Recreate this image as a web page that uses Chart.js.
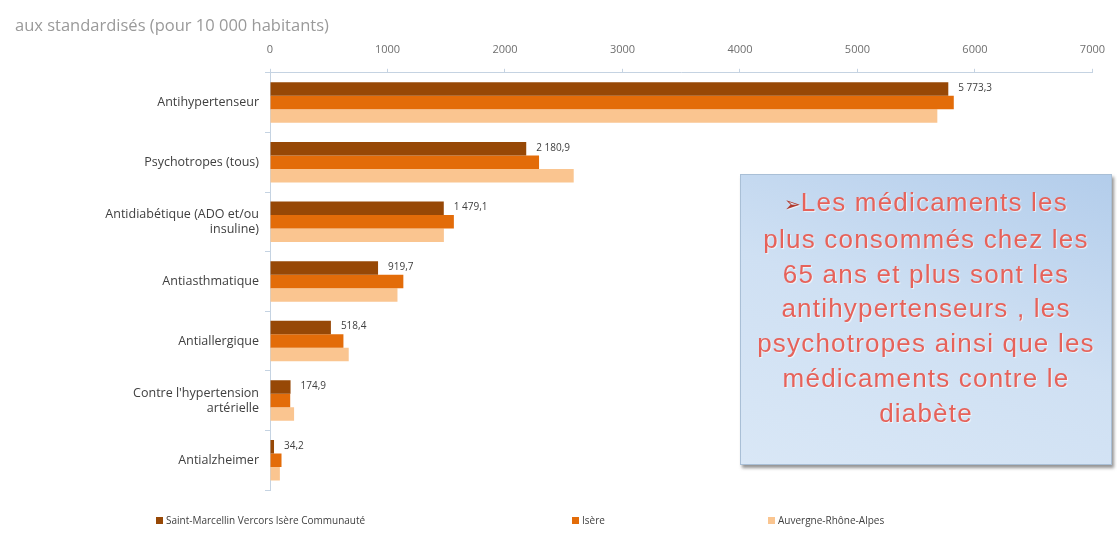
<!DOCTYPE html>
<html lang="fr">
<head>
<meta charset="utf-8">
<title>Médicaments - taux standardisés</title>
<script src="https://cdn.jsdelivr.net/npm/chart.js@4.4.1/dist/chart.umd.min.js"></script>
<style>
    html, body { margin: 0; padding: 0; background: #fff; }
    #wrap { position: relative; width: 1117px; height: 553px; overflow: hidden; }
    #medChart { position: absolute; left: 0; top: 0; }
    .note {
        position: absolute; left: 740px; top: 174px; width: 372px; height: 291px;
        box-sizing: border-box; padding-top: 10px;
        background: linear-gradient(200deg, #b3cdeb 0%, #cfe0f3 50%, #d9e7f6 100%);
        border: 1px solid #a9bfd6;
        box-shadow: 2px 3px 3px rgba(60, 60, 60, 0.55);
        font-family: "Liberation Sans", Arial, sans-serif;
        font-size: 26px; line-height: 34.8px; letter-spacing: 1.2px;
        color: #e6625a; text-align: center;
        text-shadow: 1px 1px 1px rgba(255, 255, 255, 0.7);
    }
    .note .arrow { color: #b03a2e; font-family: "DejaVu Sans"; font-size: 20px; letter-spacing: 0; }
    #legend { position: absolute; left: 0; top: 512px; width: 1117px; height: 20px; }
    .leg-item {
        position: absolute; top: 0; white-space: nowrap;
        font-family: "Open Sans", sans-serif; font-size: 10px; color: #404040;
        line-height: 16px;
    }
    .leg-box { display: inline-block; width: 7px; height: 7px; margin-right: 3px; vertical-align: 0px; }
</style>
</head>
<body>
<div id="wrap">
    <canvas id="medChart" width="1117" height="553"></canvas>
    <div class="note"><span class="arrow">➢</span>Les médicaments les<br>plus consommés chez les<br>65 ans et plus sont les<br>antihypertenseurs , les<br>psychotropes ainsi que les<br>médicaments contre le<br>diabète</div>
    <div id="legend"></div>
</div>
<script>
// -- DATA
const CATEGORIES = [
    "Antihypertenseur",
    "Psychotropes (tous)",
    ["Antidiabétique (ADO et/ou", "insuline)"],
    "Antiasthmatique",
    "Antiallergique",
    ["Contre l'hypertension", "artérielle"],
    "Antialzheimer"
];
const SERIES_NAMES = ["Saint-Marcellin Vercors Isère Communauté", "Isère", "Auvergne-Rhône-Alpes"];
const SMVIC_VALUES = [5773.3, 2180.9, 1479.1, 919.7, 518.4, 174.9, 34.2];
const ISERE_VALUES = [5820, 2290, 1565, 1135, 625, 172, 98];
const AURA_VALUES = [5680, 2585, 1480, 1085, 670, 205, 84];
const X_TICKS = [0, 1000, 2000, 3000, 4000, 5000, 6000, 7000];
const SUBTITLE = "aux standardisés (pour 10 000 habitants)";

const COLORS = ["#974806", "#e36c09", "#fac590"];
const LEGEND_X = [156, 572, 768];
const AXIS_COLOR = "#c5d3e2";

let chart;

// "5773.3" -> "5 773,3"
function formatFr(v) {
    const parts = v.toFixed(1).split(".");
    return parts[0].replace(/\B(?=(\d{3})+(?!\d))/g, " ") + "," + parts[1];
}

// value labels on the first series only
const valueLabels = {
    id: "valueLabels",
    afterDatasetsDraw(c) {
        const meta = c.getDatasetMeta(0);
        const ctx = c.ctx;
        ctx.save();
        ctx.font = "10px 'Open Sans'";
        ctx.fillStyle = "#404040";
        ctx.textBaseline = "middle";
        meta.data.forEach((bar, i) => {
            ctx.fillText(formatFr(SMVIC_VALUES[i]), bar.x + 10, bar.y - 1);
        });
        ctx.restore();
    }
};

function initChart() {
    const ctx = document.getElementById("medChart").getContext("2d");
    chart = new Chart(ctx, {
        type: "bar",
        data: {
            labels: CATEGORIES,
            datasets: [SMVIC_VALUES, ISERE_VALUES, AURA_VALUES].map((vals, i) => ({
                label: SERIES_NAMES[i],
                data: vals,
                backgroundColor: COLORS[i],
                borderWidth: 0,
                categoryPercentage: 0.68,
                barPercentage: 1
            }))
        },
        options: {
            indexAxis: "y",
            responsive: false,
            animation: false,
            layout: { padding: { left: 15, top: 16, right: 20, bottom: 63 } },
            plugins: {
                legend: { display: false },
                tooltip: { enabled: false },
                title: {
                    display: true,
                    text: SUBTITLE,
                    align: "start",
                    color: "#9a9a9a",
                    font: { family: "Open Sans", size: 16.5, weight: "normal" },
                    padding: { top: 0, bottom: 3 }
                }
            },
            scales: {
                x: {
                    position: "top",
                    min: X_TICKS[0],
                    max: X_TICKS[X_TICKS.length - 1],
                    afterBuildTicks: s => { s.ticks = X_TICKS.map(v => ({ value: v })); },
                    ticks: {
                        color: "#6f6f6f",
                        font: { family: "Open Sans", size: 11 },
                        padding: 12,
                        callback: v => String(v)
                    },
                    grid: { drawOnChartArea: false, tickLength: 4, color: AXIS_COLOR },
                    border: { color: AXIS_COLOR },
                    afterFit: s => { s.height = 34; }
                },
                y: {
                    ticks: {
                        color: "#404040",
                        font: { family: "Open Sans", size: 12.5 },
                        padding: 6
                    },
                    grid: { drawOnChartArea: false, tickLength: 5, color: AXIS_COLOR, offset: true },
                    border: { color: AXIS_COLOR },
                    afterFit: s => { s.width = 255; }
                }
            }
        },
        plugins: [valueLabels]
    });
}

function buildLegend() {
    const legend = document.getElementById("legend");
    chart.data.datasets.forEach((ds, i) => {
        const item = document.createElement("span");
        item.className = "leg-item";
        item.style.left = LEGEND_X[i] + "px";
        const box = document.createElement("span");
        box.className = "leg-box";
        box.style.background = ds.backgroundColor;
        item.appendChild(box);
        item.appendChild(document.createTextNode(ds.label));
        legend.appendChild(item);
    });
}

initChart();
buildLegend();
</script>
</body>
</html>
